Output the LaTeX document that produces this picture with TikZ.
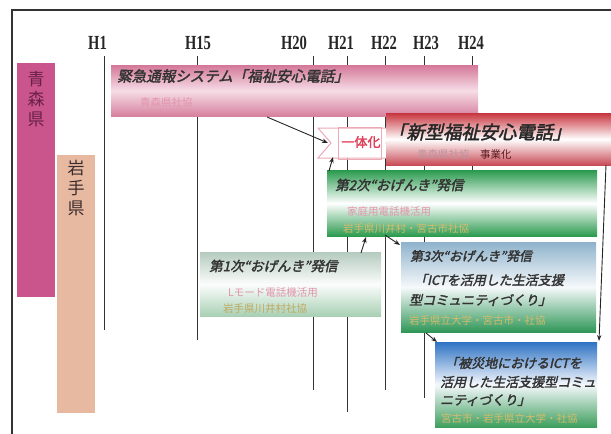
\documentclass[tikz,border=0pt]{standalone}
\usepackage{fontspec}
\newfontfamily\jp{Noto Sans CJK JP}
\newfontfamily\jpbi{Noto Sans CJK JP}[FakeSlant=0.22, FakeBold=2.2]
\newfontfamily\jpb{Noto Sans CJK JP}[FakeBold=2]
\newfontfamily\tms{Liberation Serif}
\usetikzlibrary{arrows.meta}
\definecolor{aomori}{HTML}{C9558C}
\definecolor{aomoritxt}{HTML}{6A2048}
\definecolor{iwate}{HTML}{E8B9A1}
\definecolor{iwatetxt}{HTML}{3A2C2C}
\definecolor{pinktop}{HTML}{D47898}
\definecolor{pinkmid}{HTML}{F6DDE6}
\definecolor{pinkbot}{HTML}{D6809E}
\definecolor{redtop}{HTML}{C8363F}
\definecolor{redbot}{HTML}{C84A55}
\definecolor{grn}{HTML}{2A9A4E}
\definecolor{ltgtop}{HTML}{B5CBBF}
\definecolor{ltgbot}{HTML}{A8D0B4}
\definecolor{bgtop}{HTML}{8FB3CC}
\definecolor{bgbot}{HTML}{2E9657}
\definecolor{bltop}{HTML}{2F73C4}
\definecolor{blbot}{HTML}{3C9E5C}
\definecolor{fadepink}{HTML}{E295AE}
\definecolor{fadeyel}{HTML}{D4BC6A}
\definecolor{ittaired}{HTML}{E0405A}
\definecolor{ittaiedge}{HTML}{EDA9B8}
\tikzset{
  year/.style={font=\tms\bfseries\fontsize{20}{20}\selectfont, text=black!85, inner sep=0},
  vline/.style={draw=black!80, line width=1pt},
  ttl/.style={font=\jpbi\fontsize{14.5}{14.5}\selectfont, text=black!80, anchor=west, inner sep=0},
  ttlm/.style={font=\jpbi\fontsize{13.5}{13.5}\selectfont, text=black!80, anchor=west, inner sep=0},
  ttls/.style={font=\jpbi\fontsize{12.8}{12.8}\selectfont, text=black!80, anchor=west, inner sep=0},
  ttlb/.style={font=\jpbi\fontsize{13}{13}\selectfont, text=black!80, anchor=west, inner sep=0},
  sub/.style={font=\jp\fontsize{10.5}{10.5}\selectfont, anchor=west, inner sep=0},
  box/.style={shading=axis, draw=none, anchor=north west, inner sep=0},
  pref/.style={draw=none, anchor=north west, inner sep=0},
  vtext/.style={font=\jp\fontsize{17}{20}\selectfont, align=center, inner sep=0},
  arr/.style={-{Stealth[length=6pt,width=4.5pt]}, line width=0.9pt, black!85},
}
\begin{document}
\begin{tikzpicture}[x=1pt,y=-1pt]
\useasboundingbox (0,0) rectangle (611,434);
\clip (0,0) rectangle (611,434);
% frame
\draw[black!80, line width=1.4pt] (12,10) rectangle (650,470);

% year labels
\node[year] (h1)  at (97.5,43) {\scalebox{0.73}[1]{H1}};
\node[year] (h15) at (198,43) {\scalebox{0.73}[1]{H15}};
\node[year] (h20) at (294,43) {\scalebox{0.73}[1]{H20}};
\node[year] (h21) at (341,43) {\scalebox{0.73}[1]{H21}};
\node[year] (h22) at (384,43) {\scalebox{0.73}[1]{H22}};
\node[year] (h23) at (426,43) {\scalebox{0.73}[1]{H23}};
\node[year] (h24) at (471,43) {\scalebox{0.73}[1]{H24}};

% vertical year lines
\draw[vline] (104,56) -- (104,330);
\draw[vline] (197,56) -- (197,340);
\draw[vline] (313,56) -- (313,390);
\draw[vline] (347,56) -- (347,412);
\draw[vline] (385,56) -- (385,390);
\draw[vline] (424,56) -- (424,398);
\draw[vline] (472,56) -- (472,172);

% prefecture bars
\node[pref, fill=aomori, minimum width=38pt, minimum height=234pt] (aomori) at (17,63) {};
\node[vtext, text=aomoritxt, anchor=north] (aomoritx) at (36,71) {青\\森\\県};
\node[pref, fill=iwate, minimum width=38pt, minimum height=258pt] (iwate) at (57,155) {};
\node[vtext, text=iwatetxt, anchor=north] (iwatetx) at (76,160) {岩\\手\\県};

% pink bar
\node[box, top color=pinktop, bottom color=pinkbot, middle color=pinkmid, minimum width=367pt, minimum height=51pt] (pink) at (111,65) {};
\node[ttl] (pinkt) at (117,76) {緊急通報システム「福祉安心電話」};
\node[sub, text=fadepink] (pinks) at (140,103) {青森県社協};

% ittaika shape
\draw[ittaiedge, fill=white, line width=1pt] (318,128) -- (398,128) -- (386,143) -- (398,158) -- (318,158) -- (331,143) -- cycle;
\draw[ittaiedge, line width=0.8pt] (338,127) rectangle (381,159);
\node[font=\jpb\fontsize{13}{13}\selectfont, text=ittaired, inner sep=0] (ittai) at (361,142) {一体化};

% new box
\node[box, top color=redtop, bottom color=redbot, middle color=white, minimum width=230pt, minimum height=52pt] (newb) at (386,113) {};
\node[font=\jpbi\fontsize{18.3}{18.3}\selectfont, text=black!85, anchor=west, inner sep=0] (newt) at (388,132) {「新型福祉安心電話」};
\node[sub, text=fadepink!70!black!70!white] (news1) at (417,155) {青森県社協};
\node[sub, text=black!55!redtop] (news2) at (480,155) {事業化};

% 2nd green box
\node[box, top color=grn, bottom color=grn, middle color=white, minimum width=270pt, minimum height=66pt] (g2) at (327,170) {};
\node[ttlm] (g2t) at (335,185) {第2次“おげんき”発信};
\node[sub, text=fadepink] (g2s1) at (347,212) {家庭用電話機活用};
\node[sub, text=fadeyel] (g2s2) at (343,229) {岩手県川井村・宮古市社協};

% 1st box
\node[box, top color=ltgtop, bottom color=ltgbot, middle color=white!95!ltgtop, minimum width=181pt, minimum height=64pt] (g1) at (200,252) {};
\node[ttlm] (g1t) at (209,266) {第1次“おげんき”発信};
\node[sub, text=fadepink] (g1s1) at (228,293) {Lモード電話機活用};
\node[sub, text=fadeyel!90!black] (g1s2) at (223,309) {岩手県川井村社協};

% 3rd box
\node[box, top color=bgtop, bottom color=bgbot, middle color=white!92!bgtop, minimum width=195pt, minimum height=90pt] (g3) at (401,242) {};
\node[ttls] (g3t) at (410,256) {第3次“おげんき”発信};
\node[ttlb] (g3l1) at (414,280) {「ICTを活用した生活支援};
\node[ttlb] (g3l2) at (409,300) {型コミュニティづくり」};
\node[sub, text=fadeyel] (g3s) at (409,320) {岩手県立大学・宮古市・社協};

% disaster box
\node[box, top color=bltop, bottom color=blbot, middle color=white!95!bltop, minimum width=162pt, minimum height=85pt] (g4) at (435,342) {};
\node[ttlb] (g4l1) at (445,363) {「被災地におけるICTを};
\node[ttlb] (g4l2) at (440,382) {活用した生活支援型コミュ};
\node[ttlb] (g4l3) at (440,400) {ニティづくり」};
\node[sub, text=fadeyel] (g4s) at (441,418) {宮古市・岩手県立大学・社協};

% arrows
\coordinate (a1s) at (267,117); \coordinate (a1e) at (328,143);
\coordinate (a2s) at (329,171); \coordinate (a2e) at (333,157);
\coordinate (a3s) at (361,253); \coordinate (a3e) at (366,237);
\coordinate (a4s) at (385,235); \coordinate (a4e) at (400,245);
\coordinate (a5s) at (426,333); \coordinate (a5e) at (437,342);
\coordinate (a6s) at (606,165); \coordinate (a6e) at (599,341);
\draw[arr] (a1s) -- (a1e);
\draw[arr] (a2s) -- (a2e);
\draw[arr] (a3s) -- (a3e);
\draw[arr] (a4s) -- (a4e);
\draw[arr] (a5s) -- (a5e);
\draw[arr] (a6s) -- (a6e);
\end{tikzpicture}
\end{document}
